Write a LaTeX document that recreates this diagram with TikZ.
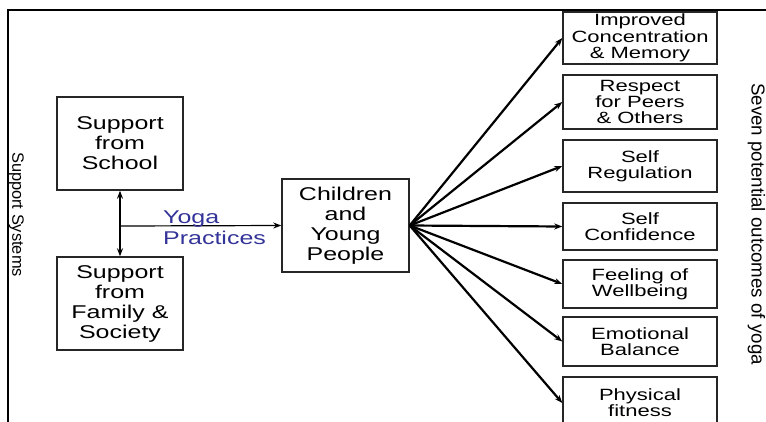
\documentclass[tikz,border=0pt]{standalone}
\usepackage{fontspec}
\setmainfont[FakeStretch=1.35]{Liberation Sans}
\newfontfamily\sidefont{Liberation Sans}
\usetikzlibrary{arrows.meta}
\definecolor{yogablue}{RGB}{51,51,153}

\begin{document}
\begin{tikzpicture}[x=1pt,y=-1pt]
   \tikzset{box/.style 2 args={draw=black!85, line width=1.4pt, minimum width=#1, minimum height=#2, inner sep=0pt, align=center, font=\fontsize{18.5}{20}\selectfont},
            outcome/.style={box={154pt}{#1}, font=\fontsize{16.3}{16.3}\selectfont},
            fan/.style={line width=2.2pt, -{Stealth[length=8pt,width=6pt]}},
            side/.style={rotate=-90, anchor=base, inner sep=0pt, font=\sidefont}};

\useasboundingbox (0,0) rectangle (766,421);
\clip (0,0) rectangle (766,421);
\draw[line width=2.4pt] (8,430) -- (8,10) -- (780,10);

\node[box={126pt}{93pt}] (school) at (120,143.5) {Support\\from\\School};
\node[box={126pt}{93pt}] (family) at (120,303.5) {Support\\from\\Family \&\\Society};
\node[box={127pt}{93pt}] (kids) at (345.5,225.5) {Children\\and\\Young\\People};

\node[outcome=52pt] (o1) at (640,38) {Improved\\Concentration\\\& Memory};
\node[outcome=54pt] (o2) at (640,102) {Respect\\for Peers\\\& Others};
\node[outcome=52pt] (o3) at (640,166) {Self\\Regulation};
\node[outcome=47pt] (o4) at (640,226.5) {Self\\Confidence};
\node[outcome=48pt] (o5) at (640,284) {Feeling of\\Wellbeing};
\node[outcome=49pt] (o6) at (640,341.5) {Emotional\\Balance};
\node[outcome=52pt] (o7) at (640,403) {Physical\\fitness};

\node[side, font=\sidefont\fontsize{16.4}{16.4}\selectfont] (systems) at (12.5,214.5) {Support Systems};
\node[side, font=\sidefont\fontsize{18.7}{18.7}\selectfont] (seven) at (751.5,224) {Seven potential outcomes of yoga};

\coordinate (mid) at (121,226);
\draw[line width=2.2pt, {Stealth[length=8pt,width=6pt]}-{Stealth[length=8pt,width=6pt]}] (school.south) -- (family.north);
\draw[line width=1.2pt, -{Stealth[length=8pt,width=6pt]}] (mid) -- (kids.west);
\node[anchor=west, align=left, inner sep=0pt, text=yogablue, font=\fontsize{18.5}{21}\selectfont] (yoga) at (163,228) {Yoga\\Practices};

\foreach \o in {1,...,7}
   \draw[fan] (kids.east) -- (o\o.west);

\end{tikzpicture}
\end{document}
